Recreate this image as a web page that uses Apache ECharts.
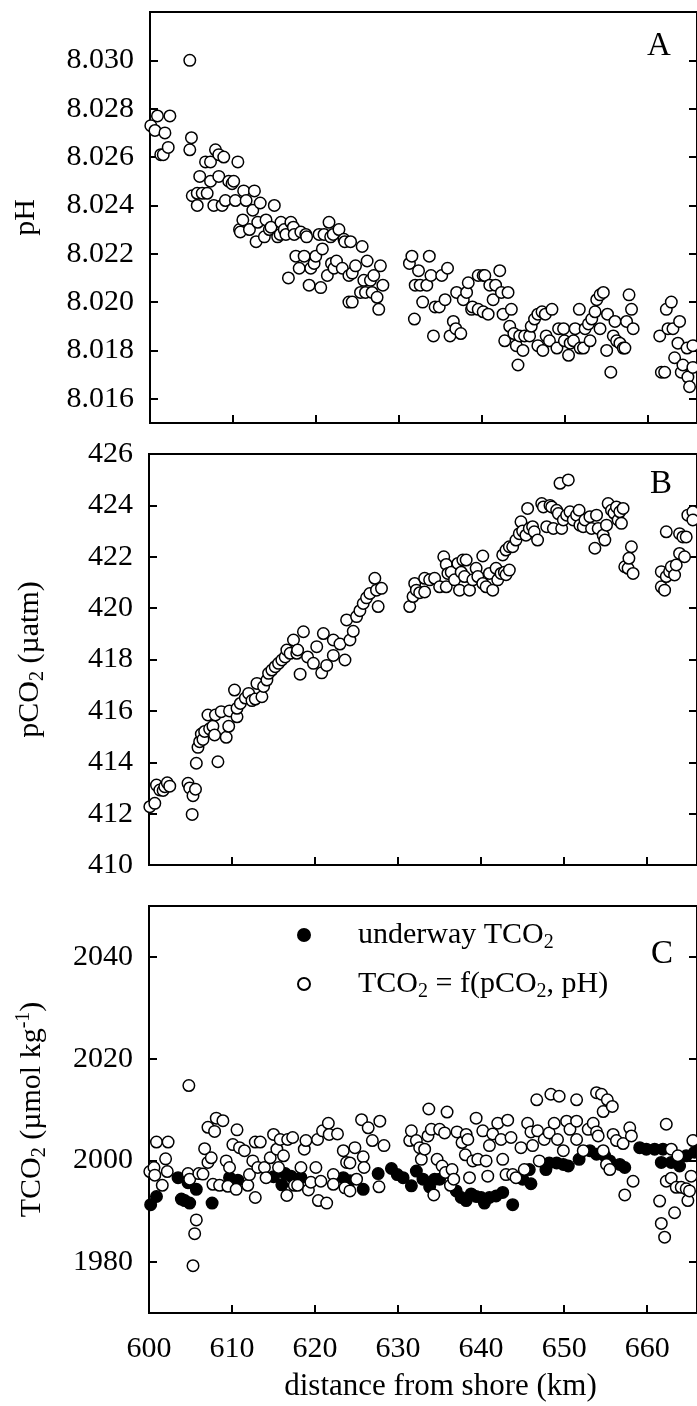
<!DOCTYPE html>
<html><head><meta charset="utf-8">
<script src="https://cdn.jsdelivr.net/npm/echarts@6/dist/echarts.min.js"></script>
<style>html,body{margin:0;padding:0;background:#fff}#c{width:697px;height:1406px}</style>
</head><body><div id="c"></div>
<script>
const FONT = '"Liberation Serif", "Times New Roman", serif';
const BLACK = '#000';

// ---- axis ticks / labels ----
const xTicks = [610, 620, 630, 640, 650, 660];
const xLabels = [600, 610, 620, 630, 640, 650, 660];
const phTicks = [8.016, 8.018, 8.020, 8.022, 8.024, 8.026, 8.028, 8.030];
const pco2Ticks = [412, 414, 416, 418, 420, 422, 424];
const pco2Labels = [410, 412, 414, 416, 418, 420, 422, 424, 426];
const tco2Ticks = [1980, 2000, 2020, 2040];

// ---- panel A: pH  [km, pH] ----
const phData = [
[600.1,8.0273],[600.6,8.0271],[600.9,8.0277],[601.3,8.0261],[601.6,8.0261],[601.8,8.0270],[602.2,8.0264],[602.4,8.0277],
[604.8,8.0300],[604.8,8.0263],[605.0,8.0268],[605.1,8.0244],[605.7,8.0240],[605.7,8.0245],[606.0,8.0252],[606.3,8.0245],
[606.7,8.0258],[606.9,8.0245],[607.3,8.0250],[607.3,8.0258],[607.7,8.0240],[607.9,8.0263],[608.3,8.0261],[608.3,8.0252],
[608.7,8.0240],[608.9,8.0260],[609.1,8.0242],[609.5,8.0250],[609.9,8.0249],[610.1,8.0250],[610.3,8.0242],[610.6,8.0258],
[610.8,8.0230],[610.9,8.0229],[611.2,8.0234],[611.3,8.0246],[611.6,8.0242],[612.0,8.0230],[612.4,8.0238],[612.6,8.0246],
[612.8,8.0225],[613.0,8.0233],[613.3,8.0241],[613.8,8.0227],[614.0,8.0234],[614.4,8.0230],[614.6,8.0231],[615.0,8.0240],
[615.4,8.0227],[615.7,8.0228],[615.8,8.0233],[616.2,8.0230],[616.4,8.0228],[616.7,8.0210],[617.0,8.0233],[617.3,8.0231],
[617.4,8.0228],[617.6,8.0219],[618.0,8.0214],[618.2,8.0229],[618.6,8.0219],[618.8,8.0228],[618.9,8.0227],[619.2,8.0207],
[619.4,8.0214],[619.8,8.0216],[620.0,8.0219],[620.4,8.0228],[620.6,8.0206],[620.8,8.0222],[621.0,8.0228],[621.4,8.0211],
[621.6,8.0233],[621.8,8.0227],[621.9,8.0216],[622.1,8.0228],[622.2,8.0214],[622.5,8.0217],[622.8,8.0230],[623.2,8.0214],
[623.4,8.0226],[623.5,8.0225],[624.0,8.0200],[624.0,8.0211],[624.2,8.0225],[624.4,8.0212],[624.4,8.0200],[624.8,8.0215],
[625.4,8.0204],[625.6,8.0223],[625.8,8.0209],[626.0,8.0204],[626.2,8.0217],[626.6,8.0209],[626.8,8.0204],[627.0,8.0211],
[627.4,8.0202],[627.6,8.0197],[627.8,8.0215],[628.1,8.0207],
[631.3,8.0216],[631.6,8.0219],[631.9,8.0193],[632.0,8.0207],[632.4,8.0213],[632.6,8.0207],[632.9,8.0200],[633.4,8.0207],
[633.7,8.0219],[633.9,8.0211],[634.2,8.0186],[634.4,8.0198],[634.9,8.0198],[635.2,8.0211],[635.6,8.0201],[635.9,8.0214],
[636.2,8.0186],[636.6,8.0192],[636.9,8.0189],[637.0,8.0204],[637.5,8.0187],[637.8,8.0201],[638.2,8.0204],[638.4,8.0208],
[638.8,8.0197],[638.9,8.0198],[639.6,8.0211],[639.6,8.0197],[640.2,8.0211],[640.2,8.0196],[640.4,8.0211],[640.8,8.0195],
[641.0,8.0207],[641.4,8.0201],[641.7,8.0207],[642.2,8.0213],[642.4,8.0204],[642.6,8.0195],[642.8,8.0184],[643.2,8.0204],
[643.4,8.0190],[643.6,8.0197],[643.9,8.0187],[644.2,8.0182],[644.4,8.0174],[644.6,8.0186],[645.0,8.0180],[645.2,8.0186],
[645.8,8.0186],[646.0,8.0190],[646.4,8.0193],[646.8,8.0195],[646.8,8.0182],[647.3,8.0196],[647.4,8.0180],[647.7,8.0195],
[647.8,8.0186],[648.2,8.0184],[648.5,8.0197],[649.1,8.0181],[649.3,8.0189],[649.9,8.0189],[650.0,8.0184],[650.5,8.0178],
[650.7,8.0183],[651.1,8.0184],[651.3,8.0189],[651.8,8.0197],[651.9,8.0181],[652.3,8.0181],[652.5,8.0189],[652.9,8.0191],
[653.1,8.0184],[653.3,8.0193],[653.7,8.0196],[653.9,8.0201],[654.3,8.0203],[654.3,8.0189],[654.7,8.0204],[655.1,8.0180],
[655.2,8.0195],[655.6,8.0171],[655.9,8.0186],[656.1,8.0192],[656.3,8.0184],[656.7,8.0183],[657.1,8.0181],[657.3,8.0181],
[657.5,8.0192],[657.8,8.0203],[658.1,8.0197],[658.3,8.0189],
[661.5,8.0186],[661.7,8.0171],[662.1,8.0171],[662.3,8.0197],[662.5,8.0189],[662.9,8.0200],[663.1,8.0189],[663.3,8.0177],
[663.7,8.0183],[663.9,8.0192],[664.1,8.0171],[664.3,8.0174],[664.8,8.0181],[664.9,8.0169],[665.1,8.0165],[665.5,8.0182],
[665.5,8.0173]
];

// ---- panel B: pCO2 [km, uatm] ----
const pco2Data = [
[600.1,412.27],[600.7,412.40],[600.9,413.11],[601.3,412.92],[601.7,412.90],[601.9,413.05],[602.2,413.20],[602.5,413.07],
[604.7,413.18],[604.9,413.00],[605.2,411.97],[605.3,412.70],[605.6,412.95],[605.7,413.96],[605.9,414.58],[606.1,414.80],
[606.3,415.10],[606.5,414.89],[606.7,415.20],[607.1,415.84],[607.3,415.30],[607.7,415.40],[607.9,415.06],[608.0,415.84],
[608.3,414.02],[608.7,415.97],[609.3,414.97],[609.6,415.40],[609.7,416.00],[610.3,416.81],[610.6,415.77],[610.6,416.10],
[611.0,416.29],[611.6,416.50],[612.0,416.68],[612.4,416.40],[612.8,416.46],[613.0,417.07],[613.6,416.55],[613.8,416.95],
[614.2,417.20],[614.4,417.46],[614.8,417.59],[615.2,417.72],[615.6,417.85],[616.0,417.98],[616.4,418.10],[616.6,418.37],
[617.0,418.24],[617.4,418.76],[617.8,418.24],[617.9,418.37],[618.2,417.43],[618.6,419.08],[619.1,418.10],[619.8,417.85],
[620.2,418.50],[620.8,417.48],[621.0,419.01],[621.4,417.77],[622.2,418.16],[622.2,418.76],[623.0,418.60],[623.6,417.98],
[623.8,419.54],[624.2,418.76],[624.6,419.10],[625.0,419.67],[625.4,419.90],[625.8,420.18],[626.2,420.40],[626.6,420.57],
[627.2,421.16],[627.4,420.70],[627.6,420.06],[628.0,420.77],
[631.4,420.06],[631.8,420.45],[632.0,420.96],[632.2,420.70],[632.6,420.60],[633.2,420.63],[633.2,421.16],[633.8,421.10],
[634.4,421.16],[635.0,420.83],[635.5,422.00],[635.8,421.70],[635.8,420.83],[636.0,421.35],[636.4,421.40],[636.8,421.10],
[637.2,421.74],[637.4,420.70],[637.6,421.40],[637.8,421.87],[638.0,421.23],[638.2,421.87],[638.6,420.70],[639.0,421.10],
[639.4,421.55],[639.6,421.23],[640.2,422.03],[640.2,420.96],[640.6,420.83],[641.0,421.35],[641.4,420.70],[641.8,421.55],
[642.0,421.10],[642.4,421.35],[642.6,422.07],[642.8,421.40],[643.0,422.26],[643.0,421.30],[643.4,422.39],[643.4,421.48],
[643.8,422.39],[644.2,422.65],[644.6,422.90],[644.8,423.36],[645.0,423.00],[645.4,422.84],[645.6,423.88],[645.8,423.10],
[646.2,423.17],[646.4,422.97],[646.8,422.65],[647.3,424.07],[647.5,423.94],[647.9,423.17],[648.3,424.00],[648.5,423.94],
[648.7,423.10],[649.1,423.81],[649.3,423.68],[649.5,424.86],[649.7,423.10],[649.9,423.43],[650.3,423.62],[650.5,424.99],
[650.7,423.75],[651.1,423.43],[651.5,423.62],[651.8,423.81],[651.9,423.23],[652.3,423.17],[652.5,423.43],[653.1,423.56],
[653.3,423.10],[653.7,422.33],[653.9,423.62],[654.1,423.10],[654.7,422.84],[654.9,422.65],[655.1,423.23],[655.3,424.07],
[655.7,423.81],[656.0,423.70],[656.3,423.94],[656.5,423.43],[656.7,423.75],[656.9,423.30],[657.1,423.88],[657.3,421.61],
[657.7,421.55],[657.8,421.94],[658.1,422.39],[658.3,421.35],
[661.7,421.42],[661.7,420.83],[662.1,420.70],[662.3,421.23],[662.3,422.97],[662.7,421.42],[662.9,421.61],[663.3,421.29],
[663.5,421.68],[663.9,422.13],[663.9,422.90],[664.3,422.77],[664.5,422.00],[664.7,422.77],[664.9,423.62],[665.5,423.75],
[665.5,423.43]
];

// ---- panel C: underway TCO2 (filled) [km, umol/kg] ----
const tco2Underway = [
[600.2,1991.3],[600.9,1992.9],[603.5,1996.6],[603.9,1992.4],[604.3,1992.1],[604.7,1995.6],[604.9,1991.6],[605.7,1994.3],
[607.6,1991.6],[609.7,1996.6],[610.7,1996.1],[615.0,1996.8],[616.0,1995.2],[616.4,1997.4],[617.1,1996.9],[618.3,1996.6],
[623.4,1996.6],[624.2,1996.0],[625.8,1994.3],[627.6,1997.4],[629.2,1998.4],[629.9,1997.2],[630.6,1996.6],[631.6,1995.0],
[632.2,1997.9],[633.0,1996.3],[633.8,1994.8],[634.4,1996.3],[635.0,1996.3],[637.0,1994.0],[637.6,1992.7],[638.2,1992.1],
[638.8,1993.4],[639.4,1992.9],[640.0,1992.7],[640.4,1991.6],[641.0,1992.7],[641.8,1993.0],[642.6,1993.7],[643.8,1991.3],
[645.0,1996.3],[645.8,1998.2],[646.0,1995.4],[647.8,1998.2],[648.2,1999.5],[649.1,1999.5],[649.9,1999.2],[650.5,1998.9],
[651.8,2000.2],[653.1,2001.9],[653.9,2001.2],[654.9,2000.9],[655.5,1999.9],[656.7,1999.2],[657.3,1998.6],[659.1,2002.5],
[659.9,2002.2],[660.9,2002.2],[661.9,2002.2],[661.7,1999.6],[662.9,1999.6],[663.9,1998.9],[664.7,2000.9],[665.7,2001.6]
];

// ---- panel C: TCO2 = f(pCO2, pH) (open) ----
const tco2Calc = [
[600.1,1997.8],[600.6,1998.6],[600.7,1997.1],[600.9,2003.6],[601.6,1995.1],[602.0,2000.3],[602.2,1997.8],[602.3,2003.6],
[604.7,1997.4],[604.8,2014.7],[604.9,1996.3],[605.3,1979.3],[605.5,1985.6],[605.7,1988.3],[606.0,1997.4],[606.5,1997.3],
[606.7,2002.3],[607.1,1999.6],[607.1,2006.5],[607.5,2000.5],[607.7,1995.3],[607.9,2005.7],[608.1,2008.3],[608.5,1995.1],
[608.9,2007.8],[609.3,1999.9],[609.5,1994.9],[609.7,1998.6],[610.1,2003.1],[610.5,1994.3],[610.6,2006.0],[610.9,2002.5],
[611.5,2001.9],[611.9,1995.1],[612.1,1997.2],[612.5,1999.9],[612.8,1992.7],[612.8,2003.6],[613.1,1998.6],[613.4,2003.6],
[613.9,1998.6],[614.1,1996.6],[614.6,2000.5],[615.0,2005.1],[615.4,2002.2],[615.6,1998.6],[615.8,2004.1],[616.2,2000.9],
[616.6,1993.1],[616.7,2004.1],[617.3,2004.5],[617.5,1995.1],[617.9,1995.1],[618.3,1998.6],[618.7,2002.2],[618.9,2003.9],
[619.2,1994.2],[619.5,1995.7],[620.1,1998.6],[620.3,2004.1],[620.4,1992.1],[620.7,1995.9],[620.9,2005.8],[621.4,1991.6],
[621.6,2007.3],[621.7,2005.1],[622.2,1997.2],[622.2,1995.3],[622.7,2005.2],[623.4,2001.9],[623.6,1994.6],[623.8,1999.6],
[624.2,1994.0],[624.2,1999.5],[624.8,2002.5],[625.0,1996.3],[625.6,2008.0],[625.8,2000.7],[625.9,1998.6],[626.4,2006.4],
[626.9,2003.9],[627.7,1994.8],[627.8,2007.7],[628.3,2002.9],
[631.4,2003.9],[631.6,2005.8],[632.2,2003.9],[632.6,2002.5],[632.8,2000.2],[633.2,2002.2],[633.6,2004.8],[633.7,2010.1],
[634.0,2006.1],[634.3,1993.2],[634.7,2000.2],[635.0,2006.1],[635.3,1998.9],[635.6,2005.4],[635.7,1997.6],[635.9,2009.5],
[636.3,1995.1],[636.5,1998.2],[636.7,1996.3],[637.1,2005.6],[637.7,2003.5],[638.1,2001.1],[638.2,2005.1],[638.4,2004.1],
[638.6,1996.6],[639.0,1999.9],[639.4,2008.3],[639.6,2000.2],[640.2,2005.8],[640.6,1999.9],[640.8,1996.9],[641.0,2002.9],
[641.4,2005.2],[642.0,2007.3],[642.4,2004.1],[642.6,2000.2],[643.0,1997.2],[643.2,2007.9],[643.6,2004.5],[643.8,1997.2],
[644.2,1996.6],[644.8,2002.5],[645.2,1998.2],[645.6,2007.3],[646.0,2005.6],[646.2,2002.9],[646.7,2011.9],[646.8,2005.8],
[647.0,1999.9],[647.6,2004.1],[648.2,2005.4],[648.4,2013.0],[648.8,2007.3],[649.2,2004.1],[649.4,2012.6],[649.9,2001.9],
[650.3,2007.7],[650.7,2006.1],[651.5,2011.9],[651.5,2007.7],[651.5,2004.1],[652.3,2001.9],[652.9,2006.1],[653.5,2007.3],
[653.9,2013.3],[653.9,2005.6],[654.1,2004.8],[654.5,2013.0],[654.7,2009.6],[654.7,2001.9],[655.1,1999.2],[655.2,2011.9],
[655.5,1998.2],[655.8,2010.6],[655.9,2005.1],[656.3,2003.9],[657.1,2003.3],[657.3,1993.2],[657.9,2006.4],[658.1,2004.8],
[658.3,1995.9],
[661.5,1992.0],[661.7,1987.6],[662.1,1984.9],[662.3,2007.1],[662.3,1995.9],[662.9,2002.2],[662.9,1996.5],[663.3,1989.7],
[663.5,1994.7],[663.7,2000.9],[664.1,1994.7],[664.7,1994.4],[664.9,1992.1],[665.1,1994.0],[665.3,1996.9],[665.5,2003.9]
];

const rich = {
  m:   {fontSize: 30, lineHeight: 36, fontFamily: FONT, color: BLACK},
  sub: {fontSize: 20, lineHeight: 18, verticalAlign: 'bottom', fontFamily: FONT, color: BLACK},
  sup: {fontSize: 20, lineHeight: 18, verticalAlign: 'top', fontFamily: FONT, color: BLACK}
};

const lineStyle = {color: BLACK, width: 2};

function xAxisFor(gi, showLabels) {
  return {
    type: 'value', gridIndex: gi, min: 600, max: 666,
    axisLine: {show: true, onZero: false, lineStyle},
    axisTick: {show: true, inside: true, length: 8, lineStyle, customValues: xTicks},
    axisLabel: {show: showLabels, customValues: xLabels, margin: 18, color: BLACK,
                fontSize: 30, fontFamily: FONT, lineHeight: 36},
    splitLine: {show: false},
    name: showLabels ? 'distance from shore (km)' : '',
    nameLocation: 'middle', nameGap: 56,
    nameTextStyle: {color: BLACK, fontSize: 31, fontFamily: FONT, lineHeight: 36, padding: [0, 0, 0, 35]}
  };
}

function yAxes(gi, min, max, ticks, labels, fmt, name, nameGap) {
  return [{
    type: 'value', gridIndex: gi, min, max, position: 'left',
    axisLine: {show: true, onZero: false, lineStyle},
    axisTick: {show: true, inside: true, length: 8, lineStyle, customValues: ticks},
    axisLabel: {show: true, customValues: labels, formatter: fmt, margin: 16, color: BLACK,
                fontSize: 30, fontFamily: FONT},
    splitLine: {show: false},
    name, nameLocation: 'middle', nameGap,
    nameTextStyle: {color: BLACK, fontSize: 30, fontFamily: FONT, lineHeight: 36, rich}
  }, {
    type: 'value', gridIndex: gi, min, max, position: 'right',
    axisLine: {show: true, onZero: false, lineStyle},
    axisTick: {show: true, inside: true, length: 8, lineStyle, customValues: ticks},
    axisLabel: {show: false},
    splitLine: {show: false}
  }];
}

function scat(name, data, xi, yi, filled) {
  return {
    type: 'scatter', name, data, xAxisIndex: xi, yAxisIndex: yi,
    symbol: 'circle', symbolSize: 11.5,
    itemStyle: {color: filled ? BLACK : '#fff', borderColor: BLACK, borderWidth: 1.5, opacity: 1},
    emphasis: {disabled: true}, silent: true, z: filled ? 2 : 3
  };
}

const grids = [
  {left: 149, top: 12, width: 549, height: 411},
  {left: 149, top: 454, width: 549, height: 411},
  {left: 149, top: 906, width: 549, height: 411}
].map(g => Object.assign(g, {show: true, borderColor: BLACK, borderWidth: 2, backgroundColor: 'transparent', containLabel: false}));

const chart = echarts.init(document.getElementById('c'), null, {renderer: 'canvas'});
chart.setOption({
  backgroundColor: '#fff',
  animation: false,
  grid: grids,
  xAxis: [xAxisFor(0, false), xAxisFor(1, false), xAxisFor(2, true)],
  yAxis: [
    ...yAxes(0, 8.015, 8.032, phTicks, phTicks, v => v.toFixed(3), '{m|pH}', 106),
    ...yAxes(1, 410, 426, pco2Ticks, pco2Labels, v => String(Math.round(v)), '{m|pCO}{sub|2}{m| (µatm)}', 101),
    ...yAxes(2, 1970, 2050, tco2Ticks, tco2Ticks, v => String(Math.round(v)), '{m|TCO}{sub|2}{m| (µmol kg}{sup|-1}{m|)}', 99)
  ],
  legend: {
    orient: 'vertical', left: 292, top: 912, itemWidth: 12, itemHeight: 12, itemGap: 13,
    selectedMode: false,
    data: [{name: 'underway TCO2', icon: 'circle'}, {name: 'TCO2 = f(pCO2, pH)', icon: 'circle'}],
    formatter: n => n === 'underway TCO2'
      ? '{m|underway TCO}{sub|2}'
      : '{m|TCO}{sub|2}{m| = f(pCO}{sub|2}{m|, pH)}',
    textStyle: {color: BLACK, fontFamily: FONT, fontSize: 30, lineHeight: 36, rich, padding: [0, 0, 0, 43]}
  },
  graphic: [
    {type: 'text', x: 659, y: 46, style: {text: 'A', font: '33px "Liberation Serif", serif', fill: BLACK, align: 'center', verticalAlign: 'middle'}},
    {type: 'text', x: 661, y: 484, style: {text: 'B', font: '33px "Liberation Serif", serif', fill: BLACK, align: 'center', verticalAlign: 'middle'}},
    {type: 'text', x: 662, y: 954, style: {text: 'C', font: '33px "Liberation Serif", serif', fill: BLACK, align: 'center', verticalAlign: 'middle'}}
  ],
  series: [
    scat('pH', phData, 0, 0, false),
    scat('pCO2', pco2Data, 1, 2, false),
    scat('underway TCO2', tco2Underway, 2, 4, true),
    scat('TCO2 = f(pCO2, pH)', tco2Calc, 2, 4, false)
  ]
});
</script></body></html>
